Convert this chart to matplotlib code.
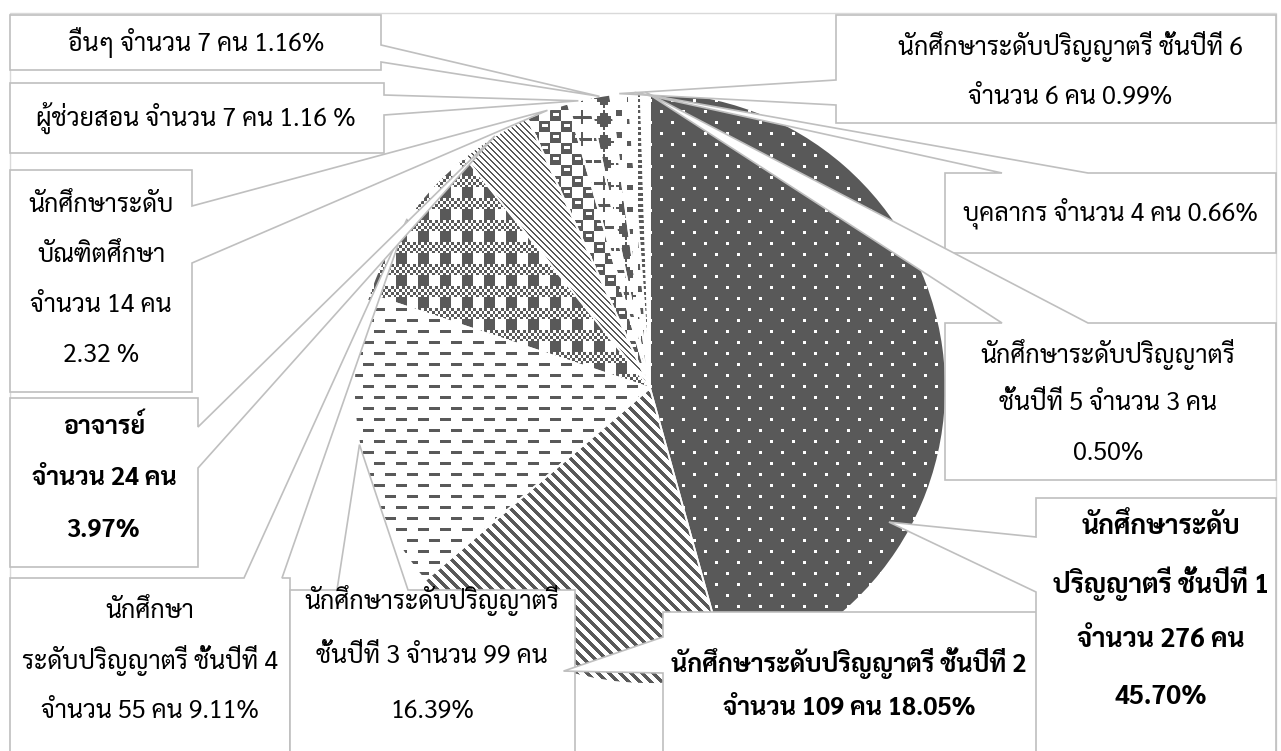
import numpy as np
import matplotlib
matplotlib.use("Agg")
import matplotlib.pyplot as plt
from matplotlib import font_manager as fm
from matplotlib.patches import Polygon, Rectangle

# ---------------- data ----------------
groups = ["ปี1", "ปี2", "ปี3", "ปี4", "อาจารย์", "บัณฑิต", "ผู้ช่วยสอน", "อื่นๆ", "ปี6", "บุคลากร", "ปี5"]
counts = [276, 109, 99, 55, 24, 14, 7, 7, 6, 4, 3]
label_lines = [
    ["นักศึกษาระดับ", "ปริญญาตรี ชั้นปีที่ 1", "จำนวน 276 คน", "45.70%"],
    ["นักศึกษาระดับปริญญาตรี ชั้นปีที่ 2", "จำนวน 109 คน 18.05%"],
    ["นักศึกษาระดับปริญญาตรี", "ชั้นปีที่ 3 จำนวน 99 คน", "16.39%"],
    ["นักศึกษา", "ระดับปริญญาตรี ชั้นปีที่ 4", "จำนวน 55 คน 9.11%"],
    ["อาจารย์", "จำนวน 24 คน", "3.97%"],
    ["นักศึกษาระดับ", "บัณฑิตศึกษา", "จำนวน 14 คน", "2.32 %"],
    ["ผู้ช่วยสอน จำนวน 7 คน 1.16 %"],
    ["อื่นๆ จำนวน 7 คน 1.16%"],
    ["นักศึกษาระดับปริญญาตรี ชั้นปีที่ 6", "จำนวน 6 คน 0.99%"],
    ["บุคลากร จำนวน 4 คน 0.66%"],
    ["นักศึกษาระดับปริญญาตรี", "ชั้นปีที่ 5 จำนวน 3 คน", "0.50%"],
]
bold_labels = [True, True, False, False, True, False, False, False, False, False, False]

# ---------------- font ----------------
installed = {f.name for f in fm.fontManager.ttflist}
thai_font = None
for p in ["Sarabun", "Niramit", "Krub", "Loma", "Noto Sans Thai"]:
    if p in installed:
        thai_font = p
        break
families = ([thai_font] if thai_font else []) + ["DejaVu Sans"]
plt.rcParams["font.family"] = families

# ---------------- figure ----------------
W, H = 1281, 751
fig = plt.figure(figsize=(W / 100, H / 100), dpi=100)
ax = fig.add_axes([0, 0, 1, 1])
ax.set_axis_off()

def Y(y):
    return H - y

CX, CY, R = 650, 388, 296
DARK = np.array([89, 89, 89]) / 255.0
WHITE = np.array([1.0, 1.0, 1.0])

wedges, _ = ax.pie(counts, startangle=90, counterclock=False, center=(CX, Y(CY)),
                   radius=R, wedgeprops=dict(facecolor="none", edgecolor="white",
                                             linewidth=1.3, zorder=3))
ax.set_xlim(0, W)
ax.set_ylim(0, H)
ax.set_aspect("auto")

# fill patterns: 8x8 bitmaps (1 = foreground) scaled to pixels, or diagonal stripes
def pat(rows):
    return np.array([[int(c) for c in r] for r in rows])

yy, xx = np.mgrid[0:H, 0:W]
SC = 2.75
iy = (np.floor(yy / SC).astype(int)) % 8
ix = (np.floor(xx / SC).astype(int)) % 8

def bitmap_mask(rows):
    return pat(rows)[iy, ix].astype(bool)

def diag_mask(period, width):
    return ((xx - yy) % period) < width

patterns = [
    (bitmap_mask(["10000000", "00000000", "00000000", "00000000",
                  "00001000", "00000000", "00000000", "00000000"]), WHITE, DARK),   # ปี1
    (diag_mask(11, 5), DARK, WHITE),                                                 # ปี2
    (bitmap_mask(["11110000", "00000000", "00000000", "00000000",
                  "00001111", "00000000", "00000000", "00000000"]), DARK, WHITE),   # ปี3
    (bitmap_mask(["10101010", "01010101", "10101010", "01010101",
                  "11110000", "11110000", "11110000", "11110000"]), DARK, WHITE),   # ปี4
    (diag_mask(6, 2), DARK, WHITE),                                                  # อาจารย์
    (bitmap_mask(["11110000", "10010000", "11110000", "11110000",
                  "00001111", "00001001", "00001111", "00001111"]), DARK, WHITE),   # บัณฑิต
    (bitmap_mask(["00010000", "00010000", "11111110", "00010000",
                  "00010000", "00000000", "00000000", "00000000"]), DARK, WHITE),   # ผู้ช่วยสอน
    (bitmap_mask(["00010000", "00111000", "01111100", "11111110",
                  "01111100", "00111000", "00010000", "00000000"]), DARK, WHITE),   # อื่นๆ
    (bitmap_mask(["11000000", "11000000", "00000000", "00001100",
                  "00001100", "00000000", "00000000", "00000000"]), DARK, WHITE),   # ปี6
    (bitmap_mask(["11100000", "00000000", "11100000", "00000000",
                  "11100000", "00000000", "11100000", "00000000"]), DARK, WHITE),   # บุคลากร
    (bitmap_mask(["10000000", "00000000", "10000000", "00000000",
                  "10000000", "00000000", "10000000", "00000000"]), DARK, WHITE),   # ปี5
]
for w, (mask, fg, bg) in zip(wedges, patterns):
    img = np.where(mask[..., None], fg, bg)
    im = ax.imshow(img, extent=(0, W, 0, H), origin="upper", interpolation="nearest",
                   zorder=2, aspect="auto")
    im.set_clip_path(w)

# chart border
ax.add_patch(Rectangle((10, Y(770)), 1266, 757, fill=False, edgecolor="#D9D9D9",
                       linewidth=1.0, zorder=1))

# ---------------- callouts ----------------
# rect (x0, y0, x1, y1), side, base (a, b), tip override (angle-from-top deg, radius px) or None
callouts = [
    ((1036, 498, 1276, 790), "left", (537, 592), (119.3, 274)),
    ((663, 612, 1045, 790), "left", (637, 673), None),
    ((290, 590, 575, 790), "top", (337, 408), None),
    ((10, 578, 290, 790), "top", (244, 282), None),
    ((10, 398, 198, 567), "right", (427, 468), None),
    ((10, 170, 192, 392), "right", (206, 263), None),
    ((10, 83, 384, 153), "right", (95, 115), None),
    ((10, 15, 381, 70), "right", (45, 62), None),
    ((836, 15, 1276, 123), "left", (80, 105), None),
    ((945, 173, 1276, 253), "top", (1002, 1088), None),
    ((945, 323, 1276, 480), "top", (1002, 1088), None),
]
text_pos = [  # center x, first line y, line spacing, font size
    (1161, 527, 56.5, 19),
    (849, 663, 46, 18),
    (432, 601, 55, 18),
    (150, 611, 50, 18),
    (104, 427, 52, 18),
    (101, 206, 50, 18),
    (196, 118, 0, 18),
    (196, 42, 0, 18),
    (1070, 47, 50, 18),
    (1110, 213, 0, 18),
    (1108, 355, 49, 18),
]

draw_order = [3, 2, 4, 5, 6, 7, 8, 9, 10, 1, 0]
for k in draw_order:
    (x0, y0, x1, y1), side, (a, b), tipo = callouts[k]
    w = wedges[k]
    if tipo is None:
        th = np.deg2rad((w.theta1 + w.theta2) / 2.0)
        tx, ty = CX + R * np.cos(th), CY - R * np.sin(th)
    else:
        th = np.deg2rad(90 - tipo[0])
        tx, ty = CX + tipo[1] * np.cos(th), CY - tipo[1] * np.sin(th)
    TL, TR, BR, BL = (x0, y0), (x1, y0), (x1, y1), (x0, y1)
    if side == "top":
        pts = [TL, (a, y0), (tx, ty), (b, y0), TR, BR, BL]
    elif side == "right":
        pts = [TL, TR, (x1, a), (tx, ty), (x1, b), BR, BL]
    elif side == "left":
        pts = [TL, TR, BR, BL, (x0, b), (tx, ty), (x0, a)]
    else:
        pts = [TL, TR, BR, (b, y1), (tx, ty), (a, y1), BL]
    zo = 5 + draw_order.index(k) * 0.01
    poly = Polygon([(px, Y(py)) for px, py in pts], closed=True, facecolor="white",
                   edgecolor="#BFBFBF", linewidth=1.2, zorder=zo)
    ax.add_patch(poly)
    cx, ly, sp, fs = text_pos[k]
    for i, line in enumerate(label_lines[k]):
        ax.text(cx, Y(ly + i * sp), line, ha="center", va="center", fontsize=fs,
                fontweight="bold" if bold_labels[k] else "normal", color="black",
                zorder=zo + 0.005)

fig.savefig("out.png", dpi=100)
